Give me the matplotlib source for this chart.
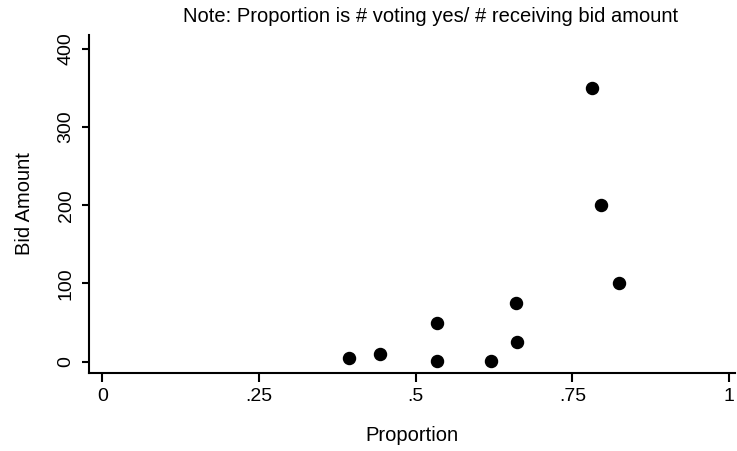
import matplotlib.pyplot as plt

plt.rcParams['font.family'] = ['Liberation Sans', 'DejaVu Sans']

# values
proportion = [0.393, 0.443, 0.534, 0.534, 0.620, 0.660, 0.662, 0.781, 0.796, 0.825]
bid_amount = [5, 10, 50, 1, 1, 75, 25, 350, 200, 100]

x_ticks = [0, 0.25, 0.5, 0.75, 1]
x_labels = ['0', '.25', '.5', '.75', '1']
y_ticks = [0, 100, 200, 300, 400]

W, H = 737, 451
fig = plt.figure(figsize=(W / 100, H / 100), dpi=100)
ax = fig.add_axes([89.3 / W, 1 - 372.7 / H, 646 / W, (372.7 - 35) / H])

ax.scatter(proportion, bid_amount, s=75, color='black', zorder=3)

ax.set_xlim(-0.021, 1.01)
ax.set_ylim(-14, 417.5)
ax.set_xticks(x_ticks)
ax.set_xticklabels(x_labels)
ax.set_yticks(y_ticks)
for lbl in ax.get_yticklabels():
    lbl.set_rotation(90)
    lbl.set_va('center')

for side in ['top', 'right']:
    ax.spines[side].set_visible(False)
for side in ['left', 'bottom']:
    ax.spines[side].set_linewidth(1.5)
ax.tick_params(axis='both', direction='out', width=1.5, labelsize=14)
ax.tick_params(axis='x', length=6.5, pad=4.5)
ax.tick_params(axis='y', length=5, pad=5.5)

ax.set_xlabel('Proportion', fontsize=14.5, va='center')
ax.xaxis.set_label_coords(0.5, (372.7 - 435) / 337.7)
ax.set_ylabel('Bid Amount', fontsize=14.5, va='center')
ax.yaxis.set_label_coords((24.5 - 89.3) / 646, 0.5)

fig.text(431 / W, 1 - 17 / H, 'Note: Proportion is # voting yes/ # receiving bid amount',
         ha='center', va='center', fontsize=14.5)

fig.savefig('out.png', dpi=100)
